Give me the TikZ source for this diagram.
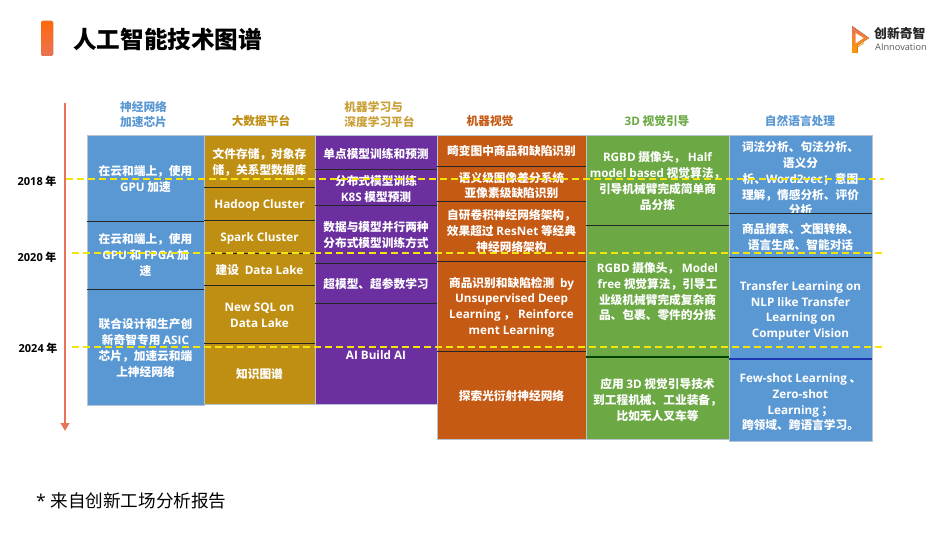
\documentclass[tikz,border=0pt]{standalone}
\usepackage{fontspec}
\usetikzlibrary{arrows.meta}
\setmainfont{Noto Sans CJK SC}
\newfontfamily\latfont{Open Sans}
\newcommand{\en}[1]{{\latfont\bfseries #1}}
\definecolor{cblue}{HTML}{5A98D4}
\definecolor{cgold}{HTML}{BF8F14}
\definecolor{cpurple}{HTML}{6C2F9F}
\definecolor{corange}{HTML}{C55A14}
\definecolor{cgreen}{HTML}{6CA945}
\definecolor{frameline}{HTML}{B8C2D2}
\definecolor{salmon}{HTML}{E8725A}
\definecolor{dashyellow}{HTML}{F3E40C}
\tikzset{
  x=1bp,y=-1bp,
  cellbox/.style={rectangle,inner sep=0pt,outer sep=0pt,draw=none},
  celltext/.style={inner sep=0pt,outer sep=0pt,align=center,text=white,
     font=\fontsize{11.7bp}{15.75bp}\selectfont\bfseries},
  colframe/.style={rectangle,inner sep=0pt,outer sep=0pt,draw=frameline,line width=0.9bp,fill=none},
  sepline/.style={draw=black!85,line width=0.9bp},
  sepheavy/.style={draw=#1,line width=1.3bp},
  head/.style={inner sep=0pt,outer sep=0pt,align=center,font=\fontsize{11.7bp}{14.7bp}\selectfont\bfseries},
  yearlabel/.style={inner sep=0pt,outer sep=0pt,text=black,font=\fontsize{11bp}{12bp}\selectfont\bfseries},
  yeardash/.style={draw=dashyellow,line width=1.6bp,dash pattern=on 7.3bp off 3.7bp},
  timeline/.style={draw=salmon,line width=2.4bp,-{Triangle[length=8bp,width=8.5bp]}},
}
% name, x0, y0, x1, y1, colour, text dy, text
\newcommand{\cellat}[8]{%
  \node[cellbox,fill=#6,minimum width={(#4-#2)*1bp},minimum height={(#5-#3)*1bp}] (#1) at ({(#2+#4)/2},{(#3+#5)/2}) {};
  \node[celltext,yshift={-(#7)*1bp}] (#1t) at (#1.center) {#8};
}
\newcommand{\colat}[5]{%
  \node[colframe,minimum width={(#4-#2)*1bp},minimum height={(#5-#3)*1bp}] (#1) at ({(#2+#4)/2},{(#3+#5)/2}) {};
}
\begin{document}
\begin{tikzpicture}
\useasboundingbox (0,0) rectangle (950,535);
\fill[white] (0,0) rectangle (950,535);

% title
\fill[top color=orange!75!red!95!white,bottom color=salmon!90!orange,rounded corners=1.5bp] (41,21) rectangle (53,56);
\node[inner sep=0pt,anchor=west,text=black,font=\fontsize{23.6bp}{26bp}\selectfont\bfseries] (title) at (73,39.5) {人工智能技术图谱};

% logo
\fill[top color=salmon,bottom color=orange!80!yellow] (852,26) -- (869,38) -- (857.5,45.5) -- (857.5,53) -- (852.5,53) -- cycle;
\fill[white] (855.5,33) -- (863.5,38) -- (855.5,43.5) -- cycle;
\draw[orange!80!yellow,line width=0.8bp] (857.5,47) -- (864,43);
\node[inner sep=0pt,anchor=west,text=black!85,font=\fontsize{12.8bp}{14bp}\selectfont\bfseries] (logoa) at (874,33.5) {创新奇智};
\node[inner sep=0pt,anchor=west,text=black!65,font=\latfont\fontsize{9.2bp}{11bp}\selectfont] (logob) at (875,47.5) {AInnovation};

% column headings
\node[head,text=cblue] (h1) at (143.5,114.5) {神经网络\\加速芯片};
\node[head,text=cgold] (h2) at (261,121) {大数据平台};
\node[head,text=cgold!85!white,align=left] (h3) at (379.5,114.5) {机器学习与\\深度学习平台};
\node[head,text=corange] (h4) at (490,121) {机器视觉};
\node[head,text=cgreen] (h5) at (657,121) {\en{3D} 视觉引导};
\node[head,text=cblue] (h6) at (800,121) {自然语言处理};

% column 1
\cellat{a1}{87}{135}{204}{221}{cblue}{1}{在云和端上，使用\\\en{GPU} 加速}
\cellat{a2}{87}{221}{204}{289}{cblue}{0}{在云和端上，使用\\\en{GPU} 和 \en{FPGA} 加\\速}
\cellat{a3}{87}{289}{204}{405}{cblue}{1}{联合设计和生产创\\新奇智专用 \en{ASIC}\\芯片，加速云和端\\上神经网络}
% column 2
\cellat{b1}{204}{135}{315}{187}{cgold}{1}{文件存储，对象存\\储，关系型数据库}
\cellat{b2}{204}{187}{315}{220}{cgold}{2}{\en{Hadoop Cluster}}
\cellat{b3}{204}{220}{315}{253}{cgold}{2}{\en{Spark Cluster}}
\cellat{b4}{204}{253}{315}{285}{cgold}{1}{建设 \en{ Data Lake}}
\cellat{b5}{204}{285}{315}{343}{cgold}{1}{\en{New SQL on}\\\en{Data Lake}}
\cellat{b6}{204}{343}{315}{404}{cgold}{1}{知识图谱}
% column 3
\cellat{c1}{315}{135}{437}{169}{cpurple}{2}{单点模型训练和预测}
\cellat{c2}{315}{169}{437}{205}{cpurple}{2}{分布式模型训练\\\en{K8S} 模型预测}
\cellat{c3}{315}{205}{437}{263}{cpurple}{1}{数据与模型并行两种\\分布式模型训练方式}
\cellat{c4}{315}{263}{437}{303}{cpurple}{1}{超模型、超参数学习}
\cellat{c5}{315}{303}{437}{404}{cpurple}{2}{\en{AI Build AI}}
% column 4
\cellat{d1}{437}{135}{586}{166}{corange}{1}{畸变图中商品和缺陷识别}
\cellat{d2}{437}{166}{586}{201}{corange}{2}{语义级图像差分系统\\亚像素级缺陷识别}
\cellat{d3}{437}{201}{586}{261}{corange}{0}{自研卷积神经网络架构，\\效果超过 \en{ResNet} 等经典\\神经网络架构}
\cellat{d4}{437}{261}{586}{351}{corange}{1}{商品识别和缺陷检测 \en{ by}\\\en{Unsupervised Deep}\\\en{Learning} ，\en{ Reinforce}\\\en{ment Learning}}
\cellat{d5}{437}{351}{586}{439}{corange}{1}{探索光衍射神经网络}
% column 5
\cellat{e1}{586}{135}{729}{225}{cgreen}{1}{\en{RGBD} 摄像头， \en{Half}\\\en{model based} 视觉算法，\\引导机械臂完成简单商\\品分拣}
\cellat{e2}{586}{225}{729}{357}{cgreen}{1}{\en{RGBD} 摄像头， \en{Model}\\\en{free} 视觉算法，引导工\\业级机械臂完成复杂商\\品、包裹、零件的分拣}
\cellat{e3}{586}{357}{729}{439}{cgreen}{2}{应用 \en{3D} 视觉引导技术\\到工程机械、工业装备，\\比如无人叉车等}
% column 6
\cellat{f1}{729}{135}{872}{213}{cblue}{5}{词法分析、句法分析、\\语义分\\析、\en{Word2vec}；意图\\理解，情感分析、评价\\分析}
\cellat{f2}{729}{213}{872}{257}{cblue}{2}{商品搜索、文图转换、\\语言生成、智能对话}
\cellat{f3}{729}{257}{872}{359}{cblue}{3}{\en{Transfer Learning on}\\\en{NLP like Transfer}\\\en{Learning on}\\\en{Computer Vision}}
\cellat{f4}{729}{359}{872}{441}{cblue}{2.5}{\en{Few-shot Learning} 、\\\en{Zero-shot}\\\en{Learning} ；\\跨领域、跨语言学习。}

% frames of the columns
\colat{fa}{87}{135}{204}{405}
\colat{fb}{204}{135}{315}{404}
\colat{fc}{315}{135}{437}{404}
\colat{fd}{437}{135}{586}{439}
\colat{fe}{586}{135}{729}{439}
\colat{ff}{729}{135}{872}{441}

% separators
\foreach \n in {a1,a2,b1,b2,b3,b4,b5,c1,c2,c3,c4,d1,d2,d3,d4,e1,f1,f2}
  \draw[sepline] (\n.south west) -- (\n.south east);
\draw[sepheavy={black!75!green}] (e2.south west) -- (e2.south east);
\draw[sepheavy={black!40!cblue!60!blue}] (f3.south west) -- (f3.south east);

% timeline
\coordinate (tlstart) at (65,103);
\coordinate (tlend) at (65,431);
\draw[timeline] (tlstart) -- (tlend);

% years
\node[yearlabel] (y18) at (37,181.5) {\en{2018} 年};
\node[yearlabel] (y20) at (37,257.5) {\en{2020} 年};
\node[yearlabel] (y24) at (38,348) {\en{2024} 年};

% year lines
\coordinate (l18a) at (66,179); \coordinate (l18b) at (884,179);
\coordinate (l20a) at (72,253); \coordinate (l20b) at (885,253);
\coordinate (l24a) at (72,347); \coordinate (l24b) at (885,347);
\draw[yeardash] (l18a) -- (l18b);
\draw[yeardash] (l20a) -- (l20b);
\draw[yeardash] (l24a) -- (l24b);

% footnote
\node[inner sep=0pt,anchor=west,text=black,font=\fontsize{17.6bp}{20bp}\selectfont] (note) at (36,501) {\latfont * \normalfont 来自创新工场分析报告};
\end{tikzpicture}
\end{document}
